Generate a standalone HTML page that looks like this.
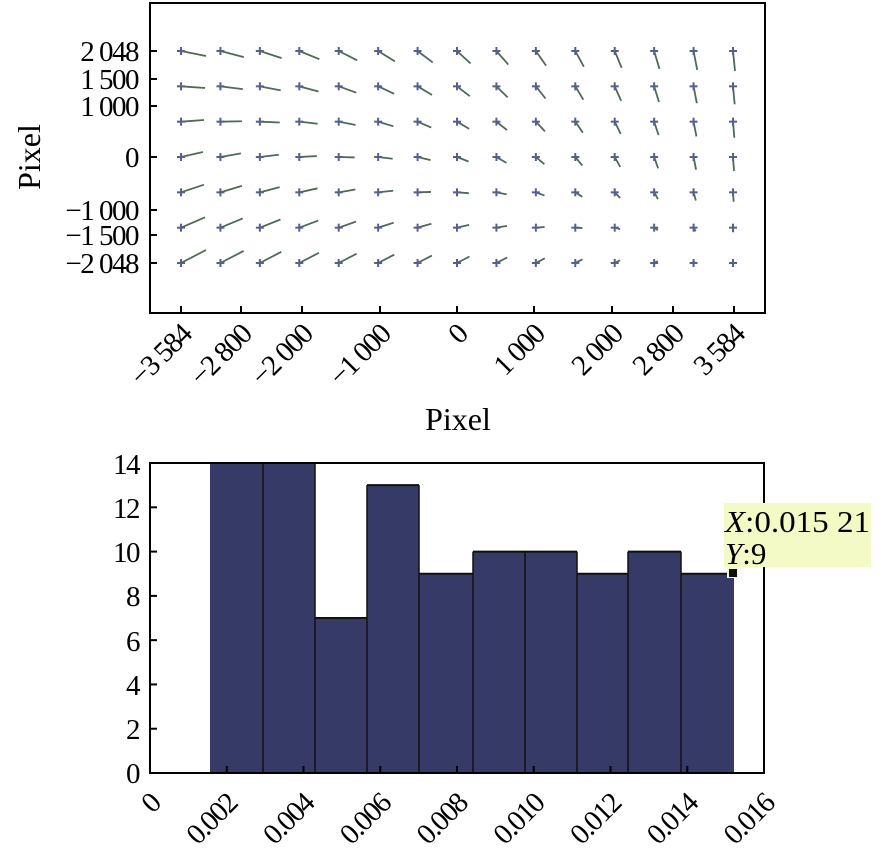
<!DOCTYPE html>
<html><head><meta charset="utf-8"><style>
html,body{margin:0;padding:0;background:#fff;}
svg{display:block;font-family:"Liberation Serif",serif;}
.t{font-size:29px;letter-spacing:-1.5px;}
</style></head><body>
<svg id="s" width="886" height="861" viewBox="0 0 886 861" xmlns="http://www.w3.org/2000/svg">
<g id="vec"></g>
<rect x="150" y="3" width="615" height="310" fill="none" stroke="#000" stroke-width="2"/>
<g stroke="#000" stroke-width="2">
<line x1="150" y1="51" x2="157" y2="51"/><line x1="150" y1="79" x2="157" y2="79"/><line x1="150" y1="106" x2="157" y2="106"/><line x1="150" y1="157" x2="157" y2="157"/><line x1="150" y1="210" x2="157" y2="210"/><line x1="150" y1="235" x2="157" y2="235"/><line x1="150" y1="263" x2="157" y2="263"/>
<line x1="181" y1="313" x2="181" y2="306"/><line x1="241" y1="313" x2="241" y2="306"/><line x1="302" y1="313" x2="302" y2="306"/><line x1="380" y1="313" x2="380" y2="306"/><line x1="457" y1="313" x2="457" y2="306"/><line x1="534" y1="313" x2="534" y2="306"/><line x1="612" y1="313" x2="612" y2="306"/><line x1="673" y1="313" x2="673" y2="306"/><line x1="734" y1="313" x2="734" y2="306"/>
</g>
<g class="t" text-anchor="end">
<text x="138" y="61">2 048</text><text x="138" y="89">1 500</text><text x="138" y="116">1 000</text><text x="138" y="167">0</text><text x="138" y="220">−1 000</text><text x="138" y="245">−1 500</text><text x="138" y="273">−2 048</text>
</g>
<g class="t" text-anchor="end" id="xl"></g>
<text x="458" y="430" font-size="32" text-anchor="middle">Pixel</text>
<text transform="translate(40,157) rotate(-90)" font-size="32" text-anchor="middle">Pixel</text>

<g id="bars"></g>
<rect x="150" y="463" width="614" height="310" fill="none" stroke="#000" stroke-width="2"/>
<g id="bt" stroke="#000" stroke-width="2"></g>
<g class="t" text-anchor="end">
<text x="139" y="783">0</text><text x="139" y="739">2</text><text x="139" y="695">4</text><text x="139" y="651">6</text><text x="139" y="606">8</text><text x="139" y="562">10</text><text x="139" y="518">12</text><text x="139" y="474">14</text>
</g>
<g class="t" text-anchor="end" id="bl"></g>
<rect x="724" y="503" width="147" height="64" fill="#f4fac6"/>
<text x="725" y="532" font-size="31" textLength="145" lengthAdjust="spacingAndGlyphs"><tspan font-style="italic">X</tspan>:0.015 21</text>
<text x="725" y="564" font-size="31"><tspan font-style="italic">Y</tspan>:9</text>
<rect x="727" y="567" width="11" height="11" fill="#f4fac6"/>
<rect x="729" y="569" width="8" height="8" fill="#111"/>
</svg>
<script>
var NS="http://www.w3.org/2000/svg";
function el(p,n,a,t){var e=document.createElementNS(NS,n);for(var k in a)e.setAttribute(k,a[k]);if(t)e.textContent=t;p.appendChild(e);return e;}
var vec=document.getElementById("vec");
function lerp(a,b,t){return a+(b-a)*t;}
var TL=[25,5],TR=[2,20],ML=[22,-5],MR=[1,14],BL=[25,-13],BR=[0,0];
for(var r=0;r<7;r++)for(var c=0;c<15;c++){
 var x=181+c*(552/14),y=51+r*(212/6),u=c/14,v=r/6,L,R,w;
 if(v<=0.5){w=v/0.5;L=[lerp(TL[0],ML[0],w),lerp(TL[1],ML[1],w)];R=[lerp(TR[0],MR[0],w),lerp(TR[1],MR[1],w)];}
 else{w=(v-0.5)/0.5;L=[lerp(ML[0],BL[0],w),lerp(ML[1],BL[1],w)];R=[lerp(MR[0],BR[0],w),lerp(MR[1],BR[1],w)];}
 var dx=lerp(L[0],R[0],u),dy=lerp(L[1],R[1],u);
 el(vec,"line",{x1:x,y1:y,x2:x+dx,y2:y+dy,stroke:"#4f6a55","stroke-width":1.8});
 el(vec,"line",{x1:x-4,y1:y,x2:x+4,y2:y,stroke:"#55608f","stroke-width":2});
 el(vec,"line",{x1:x,y1:y-4,x2:x,y2:y+4,stroke:"#55608f","stroke-width":2});
}
var xl=document.getElementById("xl");
[[181,"−3 584"],[241,"−2 800"],[302,"−2 000"],[380,"−1 000"],[457,"0"],[534,"1 000"],[612,"2 000"],[673,"2 800"],[734,"3 584"]].forEach(function(a){
 el(xl,"text",{transform:"translate("+(a[0]+12)+",336) rotate(-45)"},a[1]);});
var bars=document.getElementById("bars");
var ed=[210,263,315,367,419,473,525,577,628,681,734],h=[14,14,7,13,9,10,10,9,10,9];
for(var i=0;i<10;i++){var y=773-h[i]*22.14;
 el(bars,"rect",{x:ed[i],y:y,width:ed[i+1]-ed[i],height:773-y,fill:"#363a66"});
 el(bars,"line",{x1:ed[i],y1:y,x2:ed[i+1],y2:y,stroke:"#111","stroke-width":2});
 if(i>0)el(bars,"line",{x1:ed[i],y1:Math.min(y,773-h[i-1]*22.14),x2:ed[i],y2:773,stroke:"#111","stroke-width":1.5});}
var bt=document.getElementById("bt"),bl=document.getElementById("bl");
for(var k=0;k<=8;k++){var x=150+k*76.75;
 if(k>0&&k<8)el(bt,"line",{x1:x,y1:773,x2:x,y2:766});
 el(bl,"text",{transform:"translate("+(x+12)+",805) rotate(-45)"},k==0?"0":(k*0.002).toFixed(3));}
for(var k=1;k<7;k++){var y=773-k*2*22.14;el(bt,"line",{x1:150,y1:y,x2:157,y2:y});}
</script>
</body></html>
